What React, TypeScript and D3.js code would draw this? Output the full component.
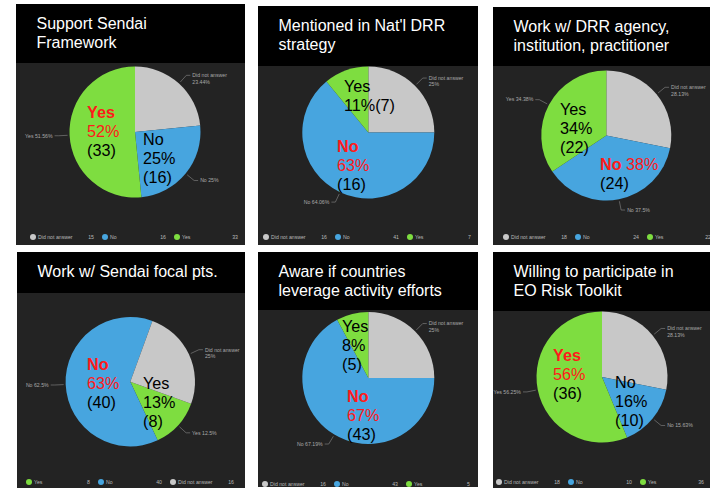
import React from "react";
import * as d3 from "d3";

// ---------- data ----------
const panelTitles: string[][] = [
  ["Support Sendai", "Framework"],
  ["Mentioned in Nat'l DRR", "strategy"],
  ["Work w/ DRR agency,", "institution, practitioner"],
  ["Work w/ Sendai focal pts."],
  ["Aware if countries", "leverage activity efforts"],
  ["Willing to participate in", "EO Risk Toolkit"],
];

const standardCategories = ["Did not answer", "No", "Yes"];
const focalCategories = ["Yes", "No", "Did not answer"];
const panelCategories: string[][] = [
  standardCategories,
  standardCategories,
  standardCategories,
  focalCategories,
  standardCategories,
  standardCategories,
];

const sendaiCounts = [15, 16, 33];
const strategyCounts = [16, 41, 7];
const agencyCounts = [18, 24, 22];
const focalCounts = [8, 40, 16];
const leverageCounts = [16, 43, 5];
const toolkitCounts = [18, 10, 36];
const panelCounts = [sendaiCounts, strategyCounts, agencyCounts, focalCounts, leverageCounts, toolkitCounts];

// which slices get an outside callout
const calloutShown = [
  [true, true, true],
  [true, true, false],
  [true, true, true],
  [true, true, true],
  [true, true, false],
  [true, true, true],
];

// inside annotations (text as on the slide): segment = [text, colorKey, bold]
type Seg = [string, string, boolean?];
type Annot = { lines: Seg[][] };
const annotations: Annot[][] = [
  [
    { lines: [[["Yes", "r", true]], [["52%", "r"]], [["(33)", "k"]]] },
    { lines: [[["No", "k"]], [["25%", "k"]], [["(16)", "k"]]] },
  ],
  [
    { lines: [[["Yes", "k"]], [["11%(7)", "k"]]] },
    { lines: [[["No", "r", true]], [["63%", "r"]], [["(16)", "k"]]] },
  ],
  [
    { lines: [[["Yes", "k"]], [["34%", "k"]], [["(22)", "k"]]] },
    { lines: [[["No", "r", true], [" 38%", "r"]], [["(24)", "k"]]] },
  ],
  [
    { lines: [[["No", "r", true]], [["63%", "r"]], [["(40)", "k"]]] },
    { lines: [[["Yes", "k"]], [["13%", "k"]], [["(8)", "k"]]] },
  ],
  [
    { lines: [[["Yes", "k"]], [["8%", "k"]], [["(5)", "k"]]] },
    { lines: [[["No", "r", true]], [["67%", "r"]], [["(43)", "k"]]] },
  ],
  [
    { lines: [[["Yes", "r", true]], [["56%", "r"]], [["(36)", "k"]]] },
    { lines: [[["No", "k"]], [["16%", "k"]], [["(10)", "k"]]] },
  ],
];

// ---------- layout / style ----------
const colors: Record<string, string> = {
  "Did not answer": "#c8c8c8",
  No: "#47a5df",
  Yes: "#7edd40",
};
const textColors: Record<string, string> = { r: "#ff1a1a", k: "#000000" };

const layout = [
  { x: 16, y: 4, w: 229, h: 241, hh: 59, cx: 135, cy: 132, r: 65.5, start: 0, lx: 33, ly: 237, ann: [[87, 118], [143, 145]] },
  { x: 258, y: 6, w: 220, h: 239, hh: 60, cx: 368.3, cy: 132.5, r: 66, start: 0, lx: 266, ly: 237, ann: [[344, 92], [337, 152]] },
  { x: 493, y: 7, w: 217, h: 238, hh: 59, cx: 606.3, cy: 135.5, r: 65, start: 0, lx: 506, ly: 237, ann: [[560, 115], [600, 170]] },
  { x: 17, y: 252, w: 228, h: 236, hh: 41, cx: 130.3, cy: 381.7, r: 64.7, start: 110, lx: 29, ly: 482, ann: [[87, 370], [143, 389]] },
  { x: 258, y: 252, w: 220, h: 235, hh: 58, cx: 368.3, cy: 378, r: 66, start: 0, lx: 265, ly: 484, ann: [[342, 332], [347, 402]] },
  { x: 493, y: 252, w: 217, h: 236, hh: 59, cx: 602, cy: 377, r: 65.5, start: 0, lx: 499, ly: 482, ann: [[553, 361], [615, 388]] },
];

const FONT = "'Liberation Sans', Arial, Helvetica, sans-serif";

function fmtPct(v: number) {
  return parseFloat(v.toFixed(2)) + "%";
}

function Panel({ i }: { i: number }) {
  const L = layout[i];
  const cats = panelCategories[i];
  const counts = panelCounts[i];
  const total = d3.sum(counts);
  const items = cats.map((c, k) => ({ cat: c, value: counts[k], idx: k }));
  const startRad = (L.start * Math.PI) / 180;
  const pie = d3
    .pie<any>()
    .sort(null)
    .value((d) => d.value)
    .startAngle(startRad)
    .endAngle(startRad + 2 * Math.PI);
  const arcs = pie(items);
  const arc = d3.arc<any>().innerRadius(0).outerRadius(L.r);
  const pt = (a: number, rr: number) => [L.cx + Math.sin(a) * rr, L.cy - Math.cos(a) * rr];

  return (
    <g>
      <rect x={L.x} y={L.y} width={L.w} height={L.h} fill="#232323" />
      <rect x={L.x} y={L.y} width={L.w} height={L.hh} fill="#000" />
      {panelTitles[i].map((t, k) => (
        <text key={k} x={L.x + 20.5} y={L.y + 25 + k * 19} fill="#fff" fontSize={16} fontFamily={FONT}>
          {t}
        </text>
      ))}
      <g transform={`translate(${L.cx},${L.cy})`}>
        {arcs.map((a, k) => (
          <path key={k} d={arc(a) as string} fill={colors[a.data.cat]} />
        ))}
      </g>
      {arcs.map((a, k) => {
        if (!calloutShown[i][a.data.idx]) return null;
        const mid = (a.startAngle + a.endAngle) / 2;
        const p1 = pt(mid, L.r + 2);
        const p2 = pt(mid, L.r + 11);
        const side = p2[0] >= L.cx ? 1 : -1;
        const p3 = [p2[0] + side * 4, p2[1]];
        const pct = fmtPct((a.data.value / total) * 100);
        const lines = a.data.cat === "Did not answer" ? [a.data.cat, pct] : [a.data.cat + " " + pct];
        return (
          <g key={"c" + k}>
            <polyline
              points={`${p1[0]},${p1[1]} ${p2[0]},${p2[1]} ${p3[0]},${p3[1]}`}
              fill="none"
              stroke="#8a8a8a"
              strokeWidth={0.6}
            />
            {lines.map((ln, j) => (
              <text
                key={j}
                x={p3[0] + side * 2}
                y={p3[1] + 1.8 + j * 6.5}
                fontSize={5.2}
                fill="#a8a8a8"
                fontFamily={FONT}
                textAnchor={side > 0 ? "start" : "end"}
              >
                {ln}
              </text>
            ))}
          </g>
        );
      })}
      {annotations[i].map((an, k) => (
        <g key={"a" + k}>
          {an.lines.map((ln, j) => (
            <text key={j} x={L.ann[k][0]} y={L.ann[k][1] + j * 19.2} fontSize={16.2} fontFamily={FONT}>
              {ln.map((s, m) => (
                <tspan key={m} fill={textColors[s[1]]} fontWeight={s[2] ? "bold" : "normal"}>
                  {s[0]}
                </tspan>
              ))}
            </text>
          ))}
        </g>
      ))}
      {items.map((it, k) => {
        const cx = L.lx + k * 72;
        return (
          <g key={"l" + k}>
            <circle cx={cx} cy={L.ly} r={3} fill={colors[it.cat]} />
            <text x={cx + 5} y={L.ly + 1.8} fontSize={5.2} fill="#b8b8b8" fontFamily={FONT}>
              {it.cat}
            </text>
            <text x={cx + 61} y={L.ly + 1.8} fontSize={5.2} fill="#b8b8b8" fontFamily={FONT} textAnchor="end">
              {it.value}
            </text>
          </g>
        );
      })}
    </g>
  );
}

export default function App() {
  return (
    <svg
      width={710}
      height={491}
      style={{ position: "absolute", left: 0, top: 0, background: "#fff" }}
    >
      <rect x={0} y={0} width={710} height={491} fill="#fff" />
      {layout.map((_, i) => (
        <Panel key={i} i={i} />
      ))}
    </svg>
  );
}
